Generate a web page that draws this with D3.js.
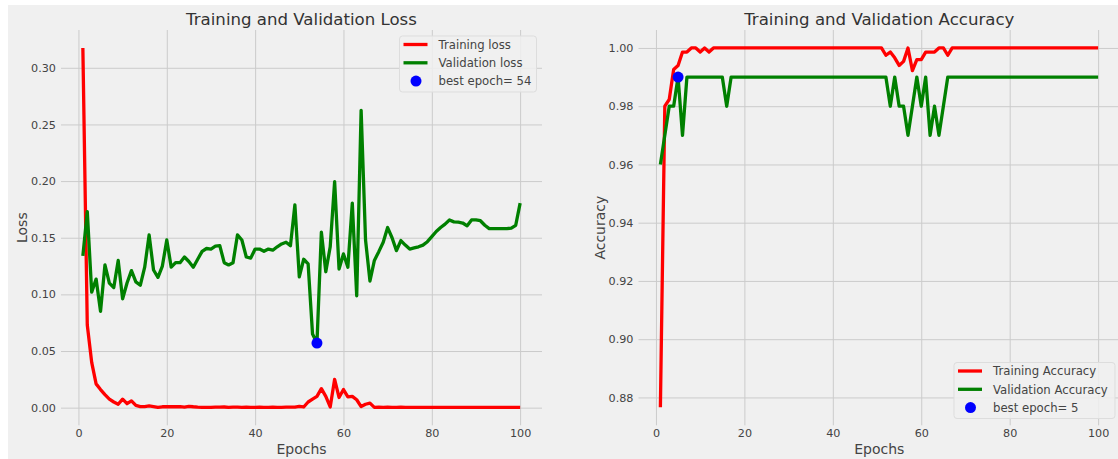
<!DOCTYPE html>
<html>
<head>
<meta charset="utf-8">
<script src="https://cdn.jsdelivr.net/npm/d3@7"></script>
<style>
  body { margin: 0; background: #fff; }
  text { font-family: "DejaVu Sans", sans-serif; }
</style>
</head>
<body>
<div id="chart"></div>
<script>
// values, one per epoch (1..100)
const trainLoss = [
  0.3175, 0.073, 0.040, 0.021, 0.016, 0.0115, 0.0075, 0.005, 0.003, 0.0075,
  0.0035, 0.006, 0.002, 0.001, 0.001, 0.0015, 0.001, 0.0003, 0.0008, 0.0008,
  0.001, 0.0008, 0.001, 0.0005, 0.0012, 0.0008, 0.0005, 0.0003, 0.0003, 0.0003,
  0.0005, 0.0004, 0.0006, 0.0003, 0.0004, 0.0005, 0.0003, 0.0004, 0.0003, 0.0003,
  0.0004, 0.0003, 0.0003, 0.0004, 0.0003, 0.0003, 0.0004, 0.0004, 0.0005, 0.0012,
  0.0006, 0.005, 0.0075, 0.010, 0.0168, 0.010, 0.0006, 0.025, 0.009, 0.016,
  0.0095, 0.010, 0.007, 0.001, 0.003, 0.004, 0.0003, 0.0004, 0.0003, 0.0004,
  0.0003, 0.0003, 0.0004, 0.0003, 0.0003, 0.0003, 0.0003, 0.0003, 0.0003, 0.0003,
  0.0003, 0.0003, 0.0003, 0.0003, 0.0003, 0.0003, 0.0003, 0.0003, 0.0003, 0.0003,
  0.0003, 0.0003, 0.0003, 0.0003, 0.0003, 0.0003, 0.0003, 0.0003, 0.0003, 0.0003
];
const valLoss = [
  0.134, 0.173, 0.102, 0.1135, 0.085, 0.126, 0.110, 0.106, 0.130, 0.096,
  0.110, 0.121, 0.111, 0.108, 0.124, 0.1525, 0.1215, 0.115, 0.125, 0.148,
  0.124, 0.128, 0.128, 0.133, 0.129, 0.124, 0.131, 0.138, 0.1405, 0.140,
  0.1425, 0.143, 0.128, 0.126, 0.128, 0.1525, 0.148, 0.133, 0.132, 0.140,
  0.140, 0.138, 0.140, 0.139, 0.142, 0.1445, 0.146, 0.143, 0.179, 0.1155,
  0.131, 0.127, 0.065, 0.057, 0.155, 0.120, 0.142, 0.1996, 0.1224, 0.1357,
  0.124, 0.1805, 0.0988, 0.2625, 0.148, 0.1118, 0.130, 0.1377, 0.146, 0.159,
  0.150, 0.1386, 0.1475, 0.1435, 0.140, 0.141, 0.142, 0.1435, 0.1465, 0.151,
  0.1555, 0.159, 0.162, 0.1657, 0.164, 0.1637, 0.163, 0.1605, 0.1657, 0.1657,
  0.165, 0.161, 0.158, 0.158, 0.158, 0.158, 0.158, 0.1585, 0.161, 0.1805
];
const trainAcc = [
  0.8766, 0.98, 0.9823, 0.9926, 0.994, 0.9986, 0.9986, 1, 1, 0.9986,
  1, 0.9986, 1, 1, 1, 1, 1, 1, 1, 1,
  1, 1, 1, 1, 1, 1, 1, 1, 1, 1,
  1, 1, 1, 1, 1, 1, 1, 1, 1, 1,
  1, 1, 1, 1, 1, 1, 1, 1, 1, 1,
  1, 0.9975, 0.9986, 0.9966, 0.994, 0.9954, 1, 0.9922, 0.996, 0.996,
  0.9986, 0.9986, 0.9986, 1, 1, 0.9975, 1, 1, 1, 1,
  1, 1, 1, 1, 1, 1, 1, 1, 1, 1,
  1, 1, 1, 1, 1, 1, 1, 1, 1, 1,
  1, 1, 1, 1, 1, 1, 1, 1, 1, 1
];
const valAcc = [
  0.96, 0.97, 0.98, 0.98, 0.99, 0.97, 0.99, 0.99, 0.99, 0.99,
  0.99, 0.99, 0.99, 0.99, 0.99, 0.98, 0.99, 0.99, 0.99, 0.99,
  0.99, 0.99, 0.99, 0.99, 0.99, 0.99, 0.99, 0.99, 0.99, 0.99,
  0.99, 0.99, 0.99, 0.99, 0.99, 0.99, 0.99, 0.99, 0.99, 0.99,
  0.99, 0.99, 0.99, 0.99, 0.99, 0.99, 0.99, 0.99, 0.99, 0.99,
  0.99, 0.99, 0.98, 0.99, 0.98, 0.98, 0.97, 0.98, 0.99, 0.98,
  0.99, 0.97, 0.98, 0.97, 0.98, 0.99, 0.99, 0.99, 0.99, 0.99,
  0.99, 0.99, 0.99, 0.99, 0.99, 0.99, 0.99, 0.99, 0.99, 0.99,
  0.99, 0.99, 0.99, 0.99, 0.99, 0.99, 0.99, 0.99, 0.99, 0.99,
  0.99, 0.99, 0.99, 0.99, 0.99, 0.99, 0.99, 0.99, 0.99, 0.99
];
const bestLossEpoch = 54;
const bestAccEpoch = 5;

const xTicks = [0, 20, 40, 60, 80, 100];
const lossTicks = [0, 0.05, 0.10, 0.15, 0.20, 0.25, 0.30];
const accTicks = [0.88, 0.90, 0.92, 0.94, 0.96, 0.98, 1.00];

const svgWidth = 1118;
const svgHeight = 459;

const svg = d3.select("#chart")
  .append("svg")
  .attr("width", svgWidth)
  .attr("height", svgHeight);

svg.append("rect")
  .attr("x", 8).attr("y", 5)
  .attr("width", svgWidth - 8).attr("height", svgHeight - 5)
  .attr("fill", "#f0f0f0");

const plotTop = 30, plotBottom = 425.3;
const epochs = d3.range(1, trainLoss.length + 1);

function padded(values) {
  const [lo, hi] = d3.extent(values);
  const m = (hi - lo) * 0.05;
  return [lo - m, hi + m];
}

function drawPanel(p) {
  const x = d3.scaleLinear()
    .domain(padded(epochs))
    .range([p.left, p.right]);
  const y = d3.scaleLinear()
    .domain(padded(p.train.concat(p.val)))
    .range([plotBottom, plotTop]);

  const g = svg.append("g");

  // grid + ticks
  const xAxis = g.append("g")
    .attr("transform", `translate(0, ${plotBottom})`)
    .call(d3.axisBottom(x).tickValues(xTicks).tickFormat(d3.format("d"))
      .tickSize(-(plotBottom - plotTop)).tickPadding(3.5));
  const yAxis = g.append("g")
    .attr("transform", `translate(${p.left}, 0)`)
    .call(d3.axisLeft(y).tickValues(p.ticks).tickFormat(d3.format(".2f"))
      .tickSize(-(p.right - p.left)).tickPadding(5));
  [xAxis, yAxis].forEach(a => {
    a.select(".domain").remove();
    a.selectAll(".tick line").attr("stroke", "#cbcbcb").attr("stroke-width", 1);
    a.selectAll(".tick text")
      .attr("fill", "#444")
      .style("font-size", "11.2px")
      .style("font-family", "DejaVu Sans");
  });

  const line = d3.line()
    .x((d, i) => x(epochs[i]))
    .y(d => y(d));

  g.append("path").datum(p.train)
    .attr("d", line).attr("fill", "none")
    .attr("stroke", "red").attr("stroke-width", 3.3)
    .attr("stroke-linejoin", "round");
  g.append("path").datum(p.val)
    .attr("d", line).attr("fill", "none")
    .attr("stroke", "green").attr("stroke-width", 3.3)
    .attr("stroke-linejoin", "round");

  g.append("circle")
    .attr("cx", x(p.best))
    .attr("cy", y(p.val[p.best - 1]))
    .attr("r", 5.5)
    .attr("fill", "blue");

  // title and axis labels
  g.append("text")
    .attr("x", (p.left + p.right) / 2).attr("y", 24.5)
    .attr("text-anchor", "middle")
    .attr("fill", "#333")
    .style("font-size", "16.6px")
    .text(p.title);
  g.append("text")
    .attr("x", (p.left + p.right) / 2).attr("y", 453.5)
    .attr("text-anchor", "middle")
    .attr("fill", "#444")
    .style("font-size", "14px")
    .text("Epochs");
  g.append("text")
    .attr("transform", `translate(${p.left - 34}, ${(plotTop + plotBottom) / 2}) rotate(-90)`)
    .attr("text-anchor", "middle")
    .attr("fill", "#444")
    .style("font-size", "14px")
    .text(p.ylabel);

  // legend
  const lg = g.append("g").attr("transform", `translate(${p.legX}, ${p.legY})`);
  lg.append("rect")
    .attr("width", p.legW).attr("height", 56)
    .attr("rx", 3)
    .attr("fill", "#f0f0f0").attr("fill-opacity", 0.85)
    .attr("stroke", "#dddddd").attr("stroke-width", 1);
  const items = [
    { label: p.names[0], color: "red", kind: "line" },
    { label: p.names[1], color: "green", kind: "line" },
    { label: "best epoch= " + p.best, color: "blue", kind: "dot" }
  ];
  items.forEach((it, i) => {
    const cy = 8.5 + i * 18.3;
    if (it.kind === "line") {
      lg.append("line")
        .attr("x1", 4).attr("x2", 28)
        .attr("y1", cy).attr("y2", cy)
        .attr("stroke", it.color).attr("stroke-width", 3.3);
    } else {
      lg.append("circle").attr("cx", 16.5).attr("cy", cy).attr("r", 5.5).attr("fill", it.color);
    }
    lg.append("text")
      .attr("x", 39).attr("y", cy).attr("dy", "0.36em")
      .attr("fill", "#444")
      .style("font-size", "11.7px")
      .text(it.label);
  });
}

drawPanel({
  left: 61, right: 542,
  train: trainLoss, val: valLoss, ticks: lossTicks, best: bestLossEpoch,
  title: "Training and Validation Loss", ylabel: "Loss",
  names: ["Training loss", "Validation loss"],
  legX: 399.5, legY: 36, legW: 137
});

drawPanel({
  left: 638.5, right: 1120,
  train: trainAcc, val: valAcc, ticks: accTicks, best: bestAccEpoch,
  title: "Training and Validation Accuracy", ylabel: "Accuracy",
  names: ["Training Accuracy", "Validation Accuracy"],
  legX: 954, legY: 362.5, legW: 161
});
</script>
</body>
</html>
